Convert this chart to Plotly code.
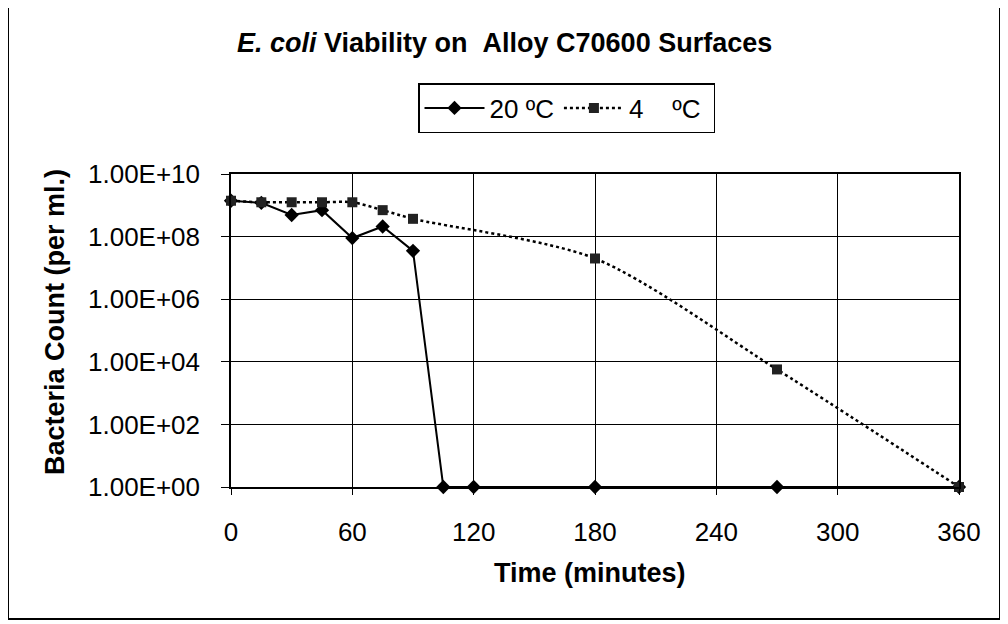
import plotly.graph_objects as go

time_20 = [0, 15, 30, 45, 60, 75, 90, 105, 120, 180, 270, 360]
count_20 = [1.4e9, 1.2e9, 4.9e8, 7.0e8, 9.0e7, 2.1e8, 3.5e7, 1, 1, 1, 1, 1]

time_4 = [0, 15, 30, 45, 60, 75, 90, 180, 270, 360]
count_4 = [1.4e9, 1.25e9, 1.25e9, 1.25e9, 1.25e9, 7.0e8, 3.7e8, 2.0e7, 5.7e3, 1]

y_tickvals = [1e0, 1e2, 1e4, 1e6, 1e8, 1e10]
y_ticktext = ["1.00E+00", "1.00E+02", "1.00E+04", "1.00E+06", "1.00E+08", "1.00E+10"]
x_tickvals = [0, 60, 120, 180, 240, 300, 360]

FONT = "Arial, Liberation Sans, sans-serif"
OFF = 8  # page body margin

PL, PR, PT, PB = 231, 959, 174, 487
W, H = 1000, 616
L, T = PL - OFF, PT - OFF
R = W - (PR - OFF)
B = H - (PB - OFF)
pw, ph = W - L - R, H - T - B

def px(x):
    return (x - OFF - L) / pw

def py(y):
    return (H - B - (y - OFF)) / ph

NB = "\u00a0"

fig = go.Figure()
fig.add_trace(go.Scatter(
    x=time_20, y=count_20, name="20 ºC", mode="lines+markers",
    line=dict(color="black", width=2),
    marker=dict(symbol="diamond", size=11, color="black"),
    cliponaxis=False,
))
fig.add_trace(go.Scatter(
    x=time_4, y=count_4, name="4" + NB * 4 + "ºC" + NB, mode="lines+markers",
    line=dict(color="black", width=2.5, dash="dot", shape="spline", smoothing=0.8),
    marker=dict(symbol="square", size=10, color="#222222"),
    cliponaxis=False,
))

fig.update_layout(
    width=W, height=H,
    margin=dict(l=L, r=R, t=T, b=B),
    paper_bgcolor="white", plot_bgcolor="white",
    font=dict(family=FONT, color="black", size=26),
    showlegend=True,
    legend=dict(
        orientation="h", x=px(418), y=py(83), xanchor="left", yanchor="top",
        bordercolor="black", borderwidth=1.5, bgcolor="white",
        font=dict(size=26, family=FONT), tracegroupgap=0, itemwidth=60,
    ),
    xaxis=dict(
        range=[0, 360], tickvals=x_tickvals, showgrid=True, gridcolor="black", gridwidth=1,
        showline=True, linecolor="black", linewidth=1.5, mirror=True,
        ticks="outside", ticklen=6, tickcolor="black", tickfont=dict(size=26),
        ticklabelstandoff=15, zeroline=False,
    ),
    yaxis=dict(
        type="log", range=[0, 10], tickvals=y_tickvals, ticktext=y_ticktext,
        showgrid=True, gridcolor="black", gridwidth=1,
        showline=True, linecolor="black", linewidth=1.5, mirror=True,
        ticks="outside", ticklen=8, tickcolor="black", tickfont=dict(size=26),
        ticklabelstandoff=16, zeroline=False,
    ),
    annotations=[
        dict(text="<b><i>E. coli</i> Viability on" + NB + NB + "Alloy C70600 Surfaces</b>",
             x=px(504), y=py(43), xref="paper", yref="paper",
             showarrow=False, font=dict(size=27, family=FONT), xanchor="center", yanchor="middle"),
        dict(text="<b>Time (minutes)</b>", x=px(590), y=py(573), xref="paper", yref="paper",
             showarrow=False, font=dict(size=27, family=FONT), xanchor="center", yanchor="middle"),
        dict(text="<b>Bacteria Count (per ml.)</b>", x=px(55), y=py(322), xref="paper", yref="paper",
             showarrow=False, textangle=-90, font=dict(size=27, family=FONT),
             xanchor="center", yanchor="middle"),
    ],
    shapes=[
        dict(type="rect", xref="paper", yref="paper",
             x0=px(8), x1=px(1000), y0=py(619), y1=py(5),
             line=dict(color="black", width=2), layer="below"),
    ],
)

fig.write_html("out.html")
